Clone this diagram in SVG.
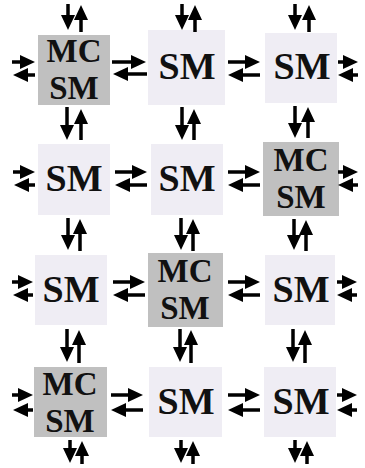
<svg xmlns="http://www.w3.org/2000/svg" width="365" height="468" viewBox="0 0 365 468">
<style>
.mc{fill:#c0c0c0}
.sm{fill:#efedf4}
text{font-family:"Liberation Serif","Times New Roman",serif;font-weight:bold;fill:#111;text-anchor:middle}
.t1{font-size:38px}
.t2{font-size:33px}
.a line{stroke:#000;stroke-width:3.5;marker-end:url(#ah)}
</style>
<defs>
<marker id="ah" markerUnits="userSpaceOnUse" markerWidth="15" markerHeight="14" refX="8" refY="7" orient="auto" overflow="visible"><path d="M0,0 L15,7 L0,14 z" fill="#000"/></marker>
</defs>
<rect width="365" height="468" fill="#fff"/>
<g id="n00"><rect class="mc" x="38" y="35" width="72" height="70"/><text class="t2" x="74" y="62">MC</text><text class="t2" x="74" y="99">SM</text></g>
<g id="n01"><rect class="sm" x="148" y="30" width="77" height="75"/><text class="t1" x="187" y="79">SM</text></g>
<g id="n02"><rect class="sm" x="265" y="33" width="72" height="70"/><text class="t1" x="302" y="79">SM</text></g>
<g id="n10"><rect class="sm" x="38" y="144" width="72" height="71"/><text class="t1" x="74" y="191">SM</text></g>
<g id="n11"><rect class="sm" x="151" y="144" width="72" height="71"/><text class="t1" x="187" y="191">SM</text></g>
<g id="n12"><rect class="mc" x="263" y="142" width="76" height="74"/><text class="t2" x="301" y="171">MC</text><text class="t2" x="301" y="208">SM</text></g>
<g id="n20"><rect class="sm" x="35" y="255" width="72" height="70"/><text class="t1" x="71" y="302">SM</text></g>
<g id="n21"><rect class="mc" x="148" y="253" width="75" height="74"/><text class="t2" x="185" y="282">MC</text><text class="t2" x="185" y="319">SM</text></g>
<g id="n22"><rect class="sm" x="265" y="255" width="70" height="70"/><text class="t1" x="301" y="302">SM</text></g>
<g id="n30"><rect class="mc" x="34" y="367" width="73" height="70"/><text class="t2" x="70" y="395">MC</text><text class="t2" x="70" y="432">SM</text></g>
<g id="n31"><rect class="sm" x="149" y="367" width="73" height="70"/><text class="t1" x="186" y="414">SM</text></g>
<g id="n32"><rect class="sm" x="264" y="367" width="72" height="70"/><text class="t1" x="301" y="414">SM</text></g>
<g id="connectors" class="a">
<line x1="68" y1="4" x2="68" y2="23"/><line x1="81" y1="32" x2="81" y2="12"/>
<line x1="182" y1="4" x2="182" y2="23"/><line x1="195" y1="32" x2="195" y2="12"/>
<line x1="295" y1="4" x2="295" y2="23"/><line x1="309" y1="32" x2="309" y2="12"/>
<line x1="67" y1="107" x2="67" y2="133"/><line x1="81" y1="140" x2="81" y2="116"/>
<line x1="182" y1="107" x2="182" y2="133"/><line x1="194" y1="140" x2="194" y2="116"/>
<line x1="295" y1="106" x2="295" y2="131"/><line x1="308" y1="138" x2="308" y2="114"/>
<line x1="68" y1="218" x2="68" y2="243"/><line x1="80" y1="251" x2="80" y2="226"/>
<line x1="181" y1="218" x2="181" y2="243"/><line x1="193" y1="251" x2="193" y2="226"/>
<line x1="294" y1="219" x2="294" y2="243"/><line x1="306" y1="251" x2="306" y2="227"/>
<line x1="67" y1="329" x2="67" y2="355"/><line x1="79" y1="363" x2="79" y2="337"/>
<line x1="180" y1="329" x2="180" y2="355"/><line x1="191" y1="363" x2="191" y2="337"/>
<line x1="293" y1="329" x2="293" y2="355"/><line x1="305" y1="363" x2="305" y2="337"/>
<line x1="70" y1="440" x2="70" y2="456"/><line x1="82" y1="464" x2="82" y2="448"/>
<line x1="181" y1="440" x2="181" y2="456"/><line x1="193" y1="464" x2="193" y2="448"/>
<line x1="295" y1="440" x2="295" y2="456"/><line x1="307" y1="464" x2="307" y2="448"/>
<line x1="12" y1="62" x2="28" y2="62"/><line x1="35" y1="75" x2="20" y2="75"/>
<line x1="112" y1="62" x2="139" y2="62"/><line x1="147" y1="74" x2="120" y2="74"/>
<line x1="228" y1="62" x2="253" y2="62"/><line x1="260" y1="75" x2="235" y2="75"/>
<line x1="338" y1="62" x2="351" y2="62"/><line x1="358" y1="75" x2="345" y2="75"/>
<line x1="13" y1="172" x2="28" y2="172"/><line x1="35" y1="185" x2="21" y2="185"/>
<line x1="115" y1="172" x2="140" y2="172"/><line x1="147" y1="185" x2="122" y2="185"/>
<line x1="228" y1="172" x2="253" y2="172"/><line x1="260" y1="185" x2="235" y2="185"/>
<line x1="338" y1="172" x2="351" y2="172"/><line x1="358" y1="185" x2="345" y2="185"/>
<line x1="12" y1="282" x2="26" y2="282"/><line x1="33" y1="295" x2="20" y2="295"/>
<line x1="113" y1="282" x2="138" y2="282"/><line x1="145" y1="295" x2="120" y2="295"/>
<line x1="228" y1="282" x2="253" y2="282"/><line x1="260" y1="295" x2="235" y2="295"/>
<line x1="337" y1="282" x2="350" y2="282"/><line x1="357" y1="295" x2="344" y2="295"/>
<line x1="12" y1="395" x2="26" y2="395"/><line x1="33" y1="410" x2="20" y2="410"/>
<line x1="111" y1="395" x2="136" y2="395"/><line x1="143" y1="410" x2="118" y2="410"/>
<line x1="228" y1="395" x2="253" y2="395"/><line x1="260" y1="410" x2="235" y2="410"/>
<line x1="337" y1="395" x2="350" y2="395"/><line x1="357" y1="410" x2="344" y2="410"/>
</g>
</svg>
